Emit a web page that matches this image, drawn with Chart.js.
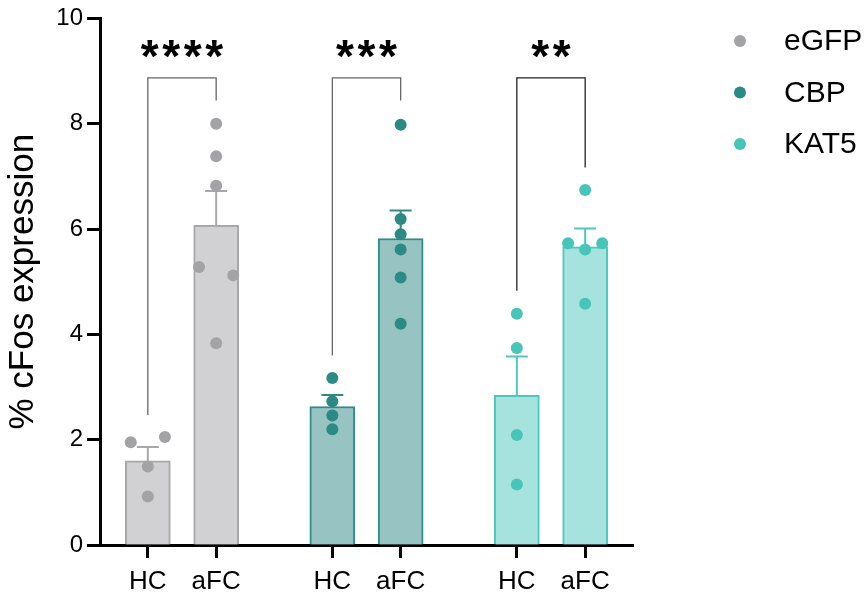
<!DOCTYPE html>
<html>
<head>
<meta charset="utf-8">
<script src="https://cdn.jsdelivr.net/npm/chart.js@4.4.1/dist/chart.umd.min.js"></script>
<style>
  html, body { margin: 0; padding: 0; background: #fff; }
  canvas { display: block; }
</style>
</head>
<body>
<canvas id="cfosChart" width="865" height="601"></canvas>
<script>
// values
const groups = ["eGFP", "CBP", "KAT5"];
const conditions = ["HC", "aFC", "HC", "aFC", "HC", "aFC"];
const yTicks = [0, 2, 4, 6, 8, 10];

const barMeans = [1.60, 6.07, 2.63, 5.82, 2.84, 5.66];
const barSems = [0.26, 0.65, 0.22, 0.53, 0.74, 0.35];

const egfpHC = [1.95, 2.05, 1.49, 0.92];
const egfpAFC = [8.00, 7.38, 6.82, 5.28, 5.12, 3.83];
const cbpHC = [3.17, 2.73, 2.46, 2.20];
const cbpAFC = [7.98, 6.19, 5.90, 5.61, 5.08, 4.20];
const kat5HC = [4.39, 3.74, 2.09, 1.15];
const kat5AFC = [6.74, 5.73, 5.61, 5.73, 4.58];

const sigLabels = ["****", "***", "**"];
const bracketTop = [8.87, 8.87, 8.87];
const bracketLeftEnd = [2.47, 3.60, 4.83];
const bracketRightEnd = [8.44, 8.44, 7.17];

// layout
const xPos = [0, 1, 2.7, 3.7, 5.4, 6.4];
// sideways nudge for dots that would overlap, in dot widths
const spread = [
  [-1, 1, 0, 0],
  [0, 0, 0, -1, 1, 0],
  [0, 0, 0, 0],
  [0, 0, 0, 0, 0, 0],
  [0, 0, 0, 0],
  [0, -1, 0, 1, 0]
];
const DOT_STEP = 0.25;

const dotColor = ['#a3a3a6', '#2b8a84', '#47c5b9'];
const barFill = ['#d1d1d3', '#98c3c3', '#a6e3de'];
const barEdge = ['#a8a8aa', '#2f8c86', '#4ec8bd'];

Chart.defaults.font.family = "'Liberation Sans', Arial, sans-serif";
Chart.defaults.color = '#000';

const points = [[egfpHC, egfpAFC], [cbpHC, cbpAFC], [kat5HC, kat5AFC]];

const barSet = {
  type: 'bar',
  label: 'mean',
  data: xPos.map((x, i) => ({ x: x, y: barMeans[i] })),
  backgroundColor: xPos.map((x, i) => barFill[Math.floor(i / 2)]),
  borderColor: xPos.map((x, i) => barEdge[Math.floor(i / 2)]),
  borderWidth: 2,
  barThickness: 45,
  order: 2
};

const scatterSets = groups.map((g, gi) => {
  const data = [];
  points[gi].forEach((vals, ci) => {
    const k = gi * 2 + ci;
    vals.forEach((v, j) => data.push({ x: xPos[k] + spread[k][j] * DOT_STEP, y: v }));
  });
  return {
    type: 'scatter',
    label: g,
    data,
    backgroundColor: dotColor[gi],
    borderWidth: 0,
    pointRadius: 6,
    pointHoverRadius: 6,
    order: 1
  };
});

const errorBars = {
  id: 'errorBars',
  afterDatasetDraw(chart, args) {
    if (args.index !== 0) return;
    const { ctx, scales: { x, y } } = chart;
    ctx.save();
    ctx.lineWidth = 2;
    barMeans.forEach((m, i) => {
      const px = x.getPixelForValue(xPos[i]);
      const y0 = y.getPixelForValue(m);
      const y1 = y.getPixelForValue(m + barSems[i]);
      ctx.strokeStyle = barEdge[Math.floor(i / 2)];
      ctx.beginPath();
      ctx.moveTo(px, y0);
      ctx.lineTo(px, y1);
      ctx.moveTo(px - 11, y1);
      ctx.lineTo(px + 11, y1);
      ctx.stroke();
    });
    ctx.restore();
  }
};

const brackets = {
  id: 'brackets',
  afterDatasetsDraw(chart) {
    const { ctx, scales: { x, y } } = chart;
    ctx.save();
    sigLabels.forEach((lab, gi) => {
      const xl = x.getPixelForValue(xPos[gi * 2]);
      const xr = x.getPixelForValue(xPos[gi * 2 + 1]);
      const yt = y.getPixelForValue(bracketTop[gi]);
      ctx.strokeStyle = gi === 2 ? '#222' : '#666';
      ctx.lineWidth = 1.3;
      ctx.beginPath();
      ctx.moveTo(xl, y.getPixelForValue(bracketLeftEnd[gi]));
      ctx.lineTo(xl, yt);
      ctx.lineTo(xr, yt);
      ctx.lineTo(xr, y.getPixelForValue(bracketRightEnd[gi]));
      ctx.stroke();

      ctx.fillStyle = '#000';
      ctx.font = "bold 46px 'Liberation Sans', Arial, sans-serif";
      ctx.textAlign = 'center';
      ctx.textBaseline = 'middle';
      const step = 21.5;
      const cx = (xl + xr) / 2;
      const start = cx - (lab.length - 1) * step / 2;
      for (let s = 0; s < lab.length; s++) {
        ctx.fillText('*', start + s * step, yt - 19);
      }
    });
    ctx.restore();
  }
};

const sideLegend = {
  id: 'sideLegend',
  afterDraw(chart) {
    const { ctx } = chart;
    ctx.save();
    ctx.font = "30px 'Liberation Sans', Arial, sans-serif";
    ctx.textAlign = 'left';
    ctx.textBaseline = 'middle';
    groups.forEach((g, gi) => {
      const cy = 41 + gi * 51.5;
      ctx.fillStyle = dotColor[gi];
      ctx.beginPath();
      ctx.arc(740, cy, 6, 0, Math.PI * 2);
      ctx.fill();
      ctx.fillStyle = '#000';
      ctx.fillText(g, 784, cy + 1);
    });
    ctx.restore();
  }
};

new Chart(document.getElementById('cfosChart'), {
  type: 'bar',
  data: { datasets: [barSet, ...scatterSets] },
  options: {
    responsive: false,
    animation: false,
    devicePixelRatio: 1,
    layout: { padding: { top: 13, right: 232, bottom: 0, left: 0 } },
    plugins: {
      legend: { display: false },
      tooltip: { enabled: false }
    },
    scales: {
      x: {
        type: 'linear',
        min: -0.7,
        max: 7.1,
        offset: false,
        afterBuildTicks: s => { s.ticks = xPos.map(v => ({ value: v })); },
        afterFit: s => { s.height = 56; },
        border: { display: true, color: '#000', width: 3 },
        grid: { display: true, drawOnChartArea: false, offset: false, tickLength: 13, tickWidth: 3, tickColor: '#000' },
        ticks: {
          autoSkip: false,
          maxRotation: 0,
          padding: 8,
          color: '#000',
          font: { size: 26 },
          callback: (v, i) => conditions[i]
        }
      },
      y: {
        min: 0,
        max: 10,
        afterBuildTicks: s => { s.ticks = yTicks.map(v => ({ value: v })); },
        afterFit: s => { s.width = 100; },
        border: { display: true, color: '#000', width: 3 },
        grid: { display: true, drawOnChartArea: false, tickLength: 13, tickWidth: 3, tickColor: '#000' },
        ticks: { padding: 4, color: '#000', font: { size: 24 } },
        title: {
          display: true,
          text: '% cFos expression',
          color: '#000',
          font: { size: 35 },
          padding: { top: 2, bottom: 0 }
        }
      }
    }
  },
  plugins: [errorBars, brackets, sideLegend]
});
</script>
</body>
</html>
